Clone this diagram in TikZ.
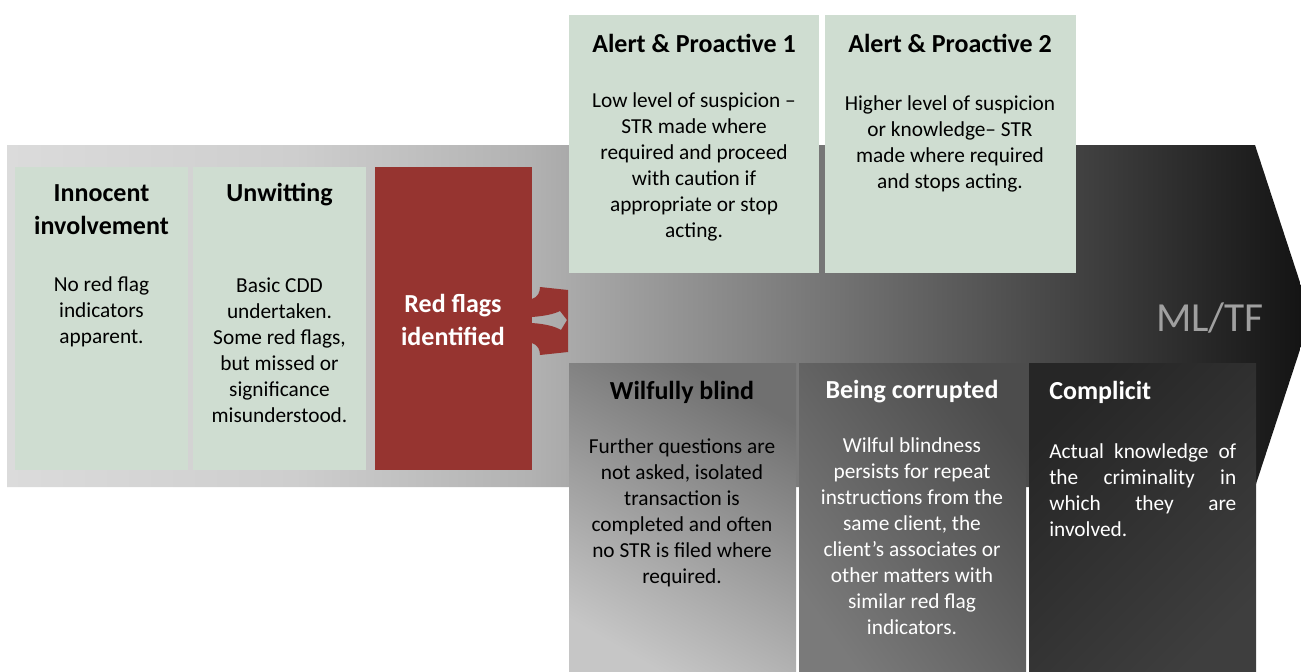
\documentclass[tikz,border=0pt]{standalone}
\usepackage{fontspec}
\setmainfont{Carlito}
\definecolor{sage}{RGB}{207,221,209}
\definecolor{redc}{RGB}{150,52,48}
\definecolor{ga}{RGB}{219,219,219}
\definecolor{gm}{RGB}{206,206,206}
\definecolor{gb}{RGB}{178,178,178}
\definecolor{gc}{RGB}{18,18,18}
\definecolor{mltf}{RGB}{160,160,160}
\pgfdeclarehorizontalshading{arrowshade}{100bp}{color(0bp)=(ga); color(25bp)=(ga); color(36bp)=(gm); color(45bp)=(gb); color(75bp)=(gc); color(100bp)=(gc)}
\begin{document}
\begin{tikzpicture}[x=0.75pt,y=-0.75pt,
  greenbox/.style={rectangle, fill=sage, draw=none, inner sep=0pt},
  head/.style={font=\bfseries\fontsize{19.5}{24.75}\selectfont, align=center, inner sep=0pt},
  body/.style={font=\fontsize{16}{19.5}\selectfont, align=center, inner sep=0pt},
  lowbox/.style={rectangle, draw=none, inner sep=0pt, minimum width=170.25pt, minimum height=237.75pt}]
\useasboundingbox (0,0) rectangle (1301,671);
\clip (0,0) rectangle (1301,671);
% big arrow
\path[shading=arrowshade] (7,145) -- (1255,145) -- (1311,316) -- (1255,487) -- (7,487) -- cycle;
% left boxes
\node[greenbox, minimum width=129.75pt, minimum height=227.25pt] (inn) at (101.5,318.5) {};
\node[greenbox, minimum width=129.75pt, minimum height=227.25pt] (unw) at (279.5,318.5) {};
\node[rectangle, fill=redc, inner sep=0pt, minimum width=117.75pt, minimum height=227.25pt] (red) at (453.5,318.5) {};
% top boxes
\node[greenbox, minimum width=187.5pt, minimum height=193.5pt] (ap1) at (694,144) {};
\node[greenbox, minimum width=188.25pt, minimum height=193.5pt] (ap2) at (950.5,144) {};
% bottom boxes
\node[lowbox, bottom color={rgb,255:red,198;green,198;blue,198}, top color={rgb,255:red,112;green,112;blue,112}, shading angle=-30] (wb) at (682.5,521.5) {};
\node[lowbox, bottom color={rgb,255:red,122;green,122;blue,122}, top color={rgb,255:red,76;green,76;blue,76}, shading angle=-55] (bc) at (912.5,521.5) {};
\node[lowbox, top color={rgb,255:red,38;green,38;blue,38}, bottom color={rgb,255:red,62;green,62;blue,62}, shading angle=45] (cp) at (1142.5,521.5) {};
% split arrow out of the red box
\fill[redc, even odd rule] (530,299) -- (532,299) .. controls (538,297) and (540,292) .. (540,287) -- (568,290) -- (568,352) -- (540,355) .. controls (540,350) and (538,345) .. (532,343) -- (530,343) -- cycle
  (529,317) -- (532,317) .. controls (545,316) and (554,314) .. (560,311) -- (567,320) -- (561,330) .. controls (554,326) and (545,324) .. (532,323) -- (529,323) -- cycle;
% texts
\node[head] (innH) at (101.5,210) {Innocent\\involvement};
\node[body] (innB) at (101.5,312) {No red flag\\indicators\\apparent.};
\node[head] (unwH) at (279.5,195) {Unwitting};
\node[body] (unwB) at (279.5,350.5) {Basic CDD\\undertaken.\\Some red flags,\\but missed or\\significance\\misunderstood.};
\node[head, text=white] (redH) at (453,319.5) {Red flags\\identified};
\node[head] (ap1H) at (694,43) {Alert \& Proactive 1};
\node[body] (ap1B) at (694,167) {Low level of suspicion –\\STR made where\\required and proceed\\with caution if\\appropriate or stop\\acting.};
\node[head] (ap2H) at (950,43) {Alert \& Proactive 2};
\node[body] (ap2B) at (950,144) {Higher level of suspicion\\or knowledge– STR\\made where required\\and stops acting.};
\node[font=\fontsize{31}{31}\selectfont, text=mltf, inner sep=0pt] (ml) at (1210,318) {ML/TF};
\node[head] (wbH) at (682,392) {Wilfully blind};
\node[body] (wbB) at (682,513) {Further questions are\\not asked, isolated\\transaction is\\completed and often\\no STR is filed where\\required.};
\node[head, text=white] (bcH) at (912,392) {Being corrupted};
\node[body, text=white] (bcB) at (912,536.5) {Wilful blindness\\persists for repeat\\instructions from the\\same client, the\\client’s associates or\\other matters with\\similar red flag\\indicators.};
\node[head, text=white, anchor=west] (cpH) at (1049,392) {Complicit};
\node[body, text=white, anchor=west, align=left] (cpB) at (1049,490.5) {\makebox[140.25pt][s]{Actual knowledge of}\\\makebox[140.25pt][s]{the criminality in}\\\makebox[140.25pt][s]{which they are}\\involved.};
\end{tikzpicture}
\end{document}
